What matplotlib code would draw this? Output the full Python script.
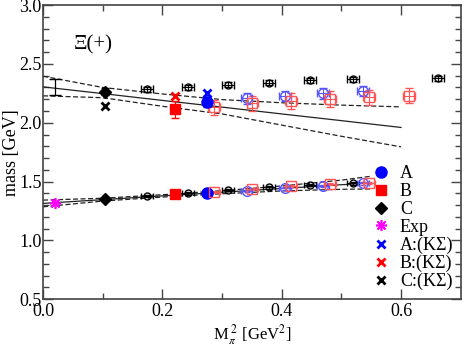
import matplotlib.pyplot as plt
import numpy as np

plt.rcParams['font.family'] = ['Liberation Serif', 'DejaVu Serif']
plt.rcParams['mathtext.fontset'] = 'stix'

### data
# filled points (one per ensemble set)
a_x, b_x, c_x = [0.275], [0.221], [0.104]
a_low, b_low, c_low = [1.404], [1.393], [1.348]
a_up, b_up, c_up = [2.178], [2.113], [2.263]
a_up_err, b_up_err, c_up_err = [0.04], [0.07], [0.03]
a_ks, b_ks, c_ks = [2.249], [2.226], [2.141]

# open points (other quark masses)
ao_x = [0.341, 0.405, 0.470, 0.536]
ao_up = [2.207, 2.226, 2.249, 2.269]
ao_low = [1.421, 1.441, 1.463, 1.484]
bo_x = [0.286, 0.351, 0.416, 0.481, 0.547, 0.614]
bo_up = [2.130, 2.164, 2.186, 2.203, 2.215, 2.229]
bo_low = [1.413, 1.435, 1.461, 1.478, 1.489]
co_x = [0.1735, 0.243, 0.310, 0.379, 0.448, 0.519, 0.662]
co_up = [2.283, 2.300, 2.323, 2.339, 2.362, 2.368, 2.377]
co_low = [1.376, 1.399, 1.427, 1.450, 1.469, 1.484]

# experiment and chiral extrapolation
exp_x, exp_y = [0.0195], [1.318]
extrap_x, extrap_y, extrap_err = [0.0195], [2.303], [0.068]

# fit lines and error bands
band_up_x = [0.0, 0.1, 0.2, 0.3, 0.4, 0.5, 0.6]
fit_up = [2.305, 2.248, 2.190, 2.133, 2.075, 2.018, 1.960]
fit_up_hi = [2.396, 2.300, 2.245, 2.197, 2.170, 2.150, 2.135]
fit_up_lo = [2.229, 2.213, 2.140, 2.075, 1.980, 1.885, 1.795]
band_low_x = [0.0, 0.1, 0.2, 0.3, 0.4, 0.5, 0.55]
fit_low = [1.314, 1.346, 1.378, 1.409, 1.441, 1.473, 1.489]
fit_low_hi = [1.342, 1.358, 1.388, 1.422, 1.462, 1.512, 1.545]
fit_low_lo = [1.285, 1.334, 1.368, 1.396, 1.420, 1.434, 1.437]

fig = plt.figure(figsize=(4.63, 3.45), dpi=100)
ax = fig.add_axes([0.093, 0.133, 0.902, 0.852])

# fit lines
ax.plot(band_up_x, fit_up, color='#222222', lw=0.9)
ax.plot(band_up_x, fit_up_hi, color='#222222', lw=0.9, dashes=(4, 2))
ax.plot(band_up_x, fit_up_lo, color='#222222', lw=0.9, dashes=(4, 2))
ax.plot(band_low_x, fit_low, color='#222222', lw=0.9)
ax.plot(band_low_x, fit_low_hi, color='#222222', lw=0.9, dashes=(4, 2))
ax.plot(band_low_x, fit_low_lo, color='#222222', lw=0.9, dashes=(4, 2))
ax.errorbar(extrap_x, extrap_y, yerr=extrap_err, fmt='none', ecolor='black', elinewidth=0.9, capsize=4)

# open points
red_l = '#ff5555'
blue_l = '#5555ff'
ax.errorbar(co_x, co_up, xerr=0.010, yerr=0.022, fmt='o', ms=5, mfc='none', mec='black', ecolor='black', elinewidth=0.8, capsize=3)
ax.errorbar(co_x[:len(co_low)], co_low, xerr=0.010, yerr=0.010, fmt='o', ms=5, mfc='none', mec='black', ecolor='black', elinewidth=0.8, capsize=2)
ax.errorbar(ao_x, ao_up, xerr=0.010, yerr=0.045, fmt='o', ms=7, mfc='none', mec=blue_l, ecolor=blue_l, elinewidth=0.8, capsize=3)
ax.errorbar(ao_x, ao_low, xerr=0.010, yerr=0.010, fmt='o', ms=7, mfc='none', mec=blue_l, ecolor=blue_l, elinewidth=0.8, capsize=2)
ax.errorbar(bo_x, bo_up, xerr=0.010, yerr=0.065, fmt='s', ms=6.5, mfc='none', mec=red_l, ecolor=red_l, elinewidth=0.8, capsize=3)
ax.errorbar(bo_x[:len(bo_low)], bo_low, xerr=0.010, yerr=0.010, fmt='s', ms=6.5, mfc='none', mec=red_l, ecolor=red_l, elinewidth=0.8, capsize=2)

# filled points
ax.errorbar(a_x, a_up, yerr=a_up_err, fmt='o', ms=8, color='blue', capsize=3, elinewidth=0.8)
ax.errorbar(b_x, b_up, yerr=b_up_err, fmt='s', ms=7, color='red', capsize=3, elinewidth=0.8)
ax.errorbar(c_x, c_up, yerr=c_up_err, fmt='D', ms=6, color='black', capsize=3, elinewidth=0.8)
ax.plot(a_x, a_low, 'o', ms=8, color='blue', label='A')
ax.plot(b_x, b_low, 's', ms=7, color='red', label='B')
ax.plot(c_x, c_low, 'D', ms=6, color='black', label='C')
ax.plot(exp_x, exp_y, marker=(8, 2, 0), ms=8, color='magenta', mew=1.2, ls='none', label='Exp')
ax.plot(a_x, a_ks, 'x', ms=6, mew=2, color='blue', label=u'A:(K\u03a3)')
ax.plot(b_x, b_ks, 'x', ms=6, mew=2, color='red', label=u'B:(K\u03a3)')
ax.plot(c_x, c_ks, 'x', ms=6, mew=2, color='black', label=u'C:(K\u03a3)')

ax.text(0.052, 2.66, u'\u039e(+)', fontsize=15, va='center')

ax.set_xlim(0, 0.7)
ax.set_ylim(0.5, 3.0)
ax.set_xticks([0.0, 0.2, 0.4, 0.6])
ax.set_xticklabels(['0.0', '0.2', '0.4', '0.6'])
ax.set_xticks(np.arange(0.1, 0.7, 0.2), minor=True)
ax.set_yticks([0.5, 1.0, 1.5, 2.0, 2.5, 3.0])
ax.set_yticklabels(['0.5', '1.0', '1.5', '2.0', '2.5', '3.0'])
ax.set_yticks(np.arange(0.6, 3.0, 0.1), minor=True)
ax.tick_params(which='both', direction='in', top=True, right=True, labelsize=13, color='#444444', pad=1)
ax.tick_params(axis='x', which='major', pad=3)
ax.tick_params(which='major', length=7, width=1)
ax.tick_params(which='minor', length=4, width=1)
for sp in ax.spines.values():
    sp.set_color('#444444')
    sp.set_linewidth(1.2)

ax.set_xlabel(r'M$_{\pi}^{\ 2}$ [GeV$^2$]', fontsize=12)
ax.xaxis.set_label_coords(0.5, -0.08)
ax.set_ylabel('mass [GeV]', fontsize=13)
ax.yaxis.set_label_coords(-0.055, 0.5)

ax.legend(loc='lower right', frameon=False, fontsize=13, handlelength=1.0, handletextpad=0.55,
          labelspacing=0.05, borderaxespad=0.0, bbox_to_anchor=(1.0, 0.005))

fig.savefig('out.png', dpi=100)
